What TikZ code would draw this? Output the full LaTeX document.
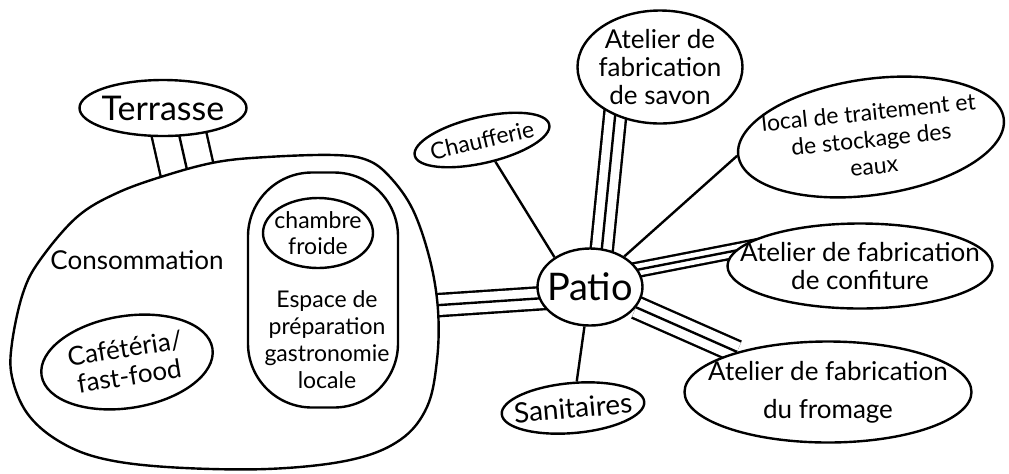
\documentclass[tikz,border=0pt]{standalone}
\usepackage{fontspec}
\setmainfont{Lato}
\usetikzlibrary{shapes.geometric,backgrounds}
\tikzset{
  bubble/.style={ellipse, draw, fill=white, inner sep=0pt},
  txt/.style={font=\fontsize{13}{14}\selectfont, align=center},
  rail/.style={double, double distance=#1},
}
\newcommand{\tripleline}[3][9.9pt]{%
  \draw[rail=#1] #2 -- #3;
  \draw #2 -- #3;}

\begin{document}
\begin{tikzpicture}[x=0.5pt, y=-0.5pt, line width=1.2pt, every label/.style={txt}]
  \useasboundingbox (0,0) rectangle (1009,473);

  % bloc consommation
  \draw[fill=white] plot[smooth cycle, tension=0.6] coordinates {
    (167,175) (217,162) (267,157) (333,155) (367,160) (390,177) (413,210)
    (430,260) (438,310) (437,360) (427,407) (400,440) (350,460) (267,469)
    (167,467) (100,458) (57,440) (27,413) (12,377) (12,343) (23,293)
    (40,260) (77,217) (117,193)};
  \coordinate (blobN) at (195,205);
  \coordinate (blobE) at (380,309);

  \node[txt] (cons) at (137,260) {Consommation};
  \node[bubble, minimum width=86.5pt, minimum height=46pt, rotate=9,
        label={[rotate=9]center:Cafétéria/\\fast-food}] (cafe) at (127,362) {};
  \node[draw, fill=white, rounded corners=32pt, minimum width=75pt,
        minimum height=117.5pt] (prep) at (323,290) {};
  \node[txt, font=\fontsize{11.5}{13.5}\selectfont] (prep-t) at (327,340)
    {Espace de\\préparation\\gastronomie\\locale};
  \node[bubble, minimum width=55pt, minimum height=35pt,
        label={[font=\fontsize{11.5}{13}\selectfont]center:chambre\\froide}] (froid) at (318,233) {};

  \node[bubble, minimum width=83.5pt, minimum height=28pt,
        label={[font=\fontsize{17}{19}\selectfont]center:Terrasse}] (terr) at (163,108) {};

  % patio et ateliers
  \node[bubble, minimum width=52.5pt, minimum height=38.5pt,
        label={[font=\fontsize{19}{21}\selectfont]center:Patio}] (patio) at (590,287) {};
  \node[bubble, minimum width=69pt, minimum height=23pt, rotate=13,
        label={[rotate=13, font=\fontsize{11.5}{13}\selectfont]center:Chaufferie}] (chauf) at (482,140) {};
  \node[bubble, minimum width=82.5pt, minimum height=56.5pt,
        label={center:Atelier de\\fabrication\\de savon}] (savon) at (660,67) {};
  \node[bubble, minimum width=134pt, minimum height=58pt, rotate=8,
        label={[rotate=6, yshift=-1pt, font=\fontsize{11.5}{13.5}\selectfont]center:local de traitement et\\de stockage des\\eaux}] (local) at (871,137) {};
  \node[bubble, minimum width=132.5pt, minimum height=42.5pt,
        label={center:Atelier de fabrication\\de confiture}] (conf) at (860,266) {};
  \node[bubble, minimum width=143.5pt, minimum height=50.5pt,
        label={[font=\fontsize{13}{19}\selectfont]center:Atelier de fabrication\\du fromage}] (from) at (828,392) {};
  \node[bubble, minimum width=71.5pt, minimum height=25pt, rotate=5,
        label={[rotate=5, font=\fontsize{14}{16}\selectfont]center:Sanitaires}] (sani) at (573,408) {};

  % liaisons
  \begin{scope}[on background layer={line width=1.2pt}]
    \tripleline[25.9pt]{([xshift=5pt]terr.center)}{(blobN)}
    \tripleline{([yshift=-4pt]patio.center)}{(blobE)}
    \tripleline{([xshift=4pt]patio.center)}{([xshift=-20pt]savon.center)}
    \tripleline[5.9pt]{([yshift=4pt]patio.center)}{([shift={(-30pt,14pt)}]conf.center)}
    \tripleline{(patio)}{(from)}
    \draw (chauf) -- (patio.140);
    \draw (patio) -- (local.west);
    \draw (patio) -- (sani);
  \end{scope}
\end{tikzpicture}
\end{document}
